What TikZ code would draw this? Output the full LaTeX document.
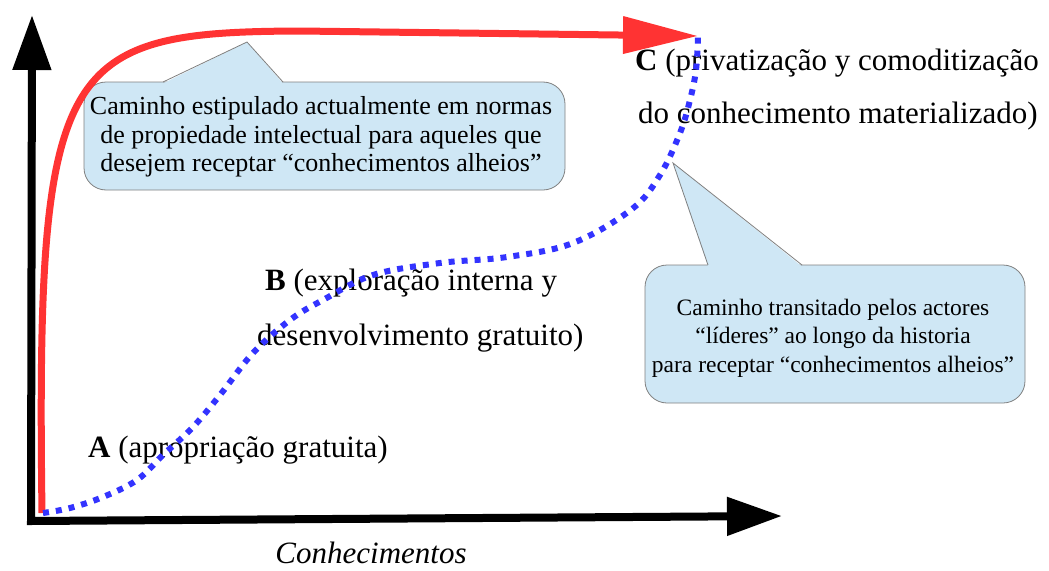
\documentclass[tikz,border=0pt]{standalone}
\usepackage{fontspec}
\setmainfont{Liberation Serif}
\usetikzlibrary{arrows.meta,positioning}
\definecolor{pathred}{HTML}{FF3333}
\definecolor{pathblue}{HTML}{3333FF}
\definecolor{notefill}{HTML}{CFE7F5}
\tikzset{>=stealth,
  axis/.style={line width=8pt, black},
  redpath/.style={line width=7pt, pathred, -{Triangle[length=75pt,width=36pt]}},
  bluepath/.style={line width=6pt, pathblue, dash pattern=on 6pt off 7pt},
  notebox/.style={fill=notefill, draw=gray, line width=0.8pt, rounded corners=22pt},
  notetext/.style={align=center, inner sep=0pt},
  phase/.style={anchor=base west, inner sep=0pt, font=\fontsize{31}{37}\selectfont}
}

\begin{document}
\begin{tikzpicture}[x=1pt,y=-1pt]

    \useasboundingbox (0,0) rectangle (1049,570);

    \coordinate (O) at (31,521);
    \coordinate (ytip) at (32,15);
    \coordinate (xtip) at (782,516);
    \coordinate (start) at (42,513);
    \coordinate (C) at (698,36);

    % notes
    \draw [notebox] (84,82) rectangle (565,190);
    \fill [notefill] (163,83.5) -- (247,42) -- (283,83.5) -- cycle;
    \draw [gray, line width=0.8pt] (163,82) -- (247,42) -- (283,82);
    \node [notetext, font=\fontsize{26}{28.5}\selectfont] (note1) at (321,137)
        {Caminho estipulado actualmente em normas\\
         de propiedade intelectual para aqueles que\\
         desejem receptar “conhecimentos alheios”};

    \draw [notebox] (645,265) rectangle (1025,403);
    \fill [notefill] (708,266.5) -- (673,163) -- (802,266.5) -- cycle;
    \draw [gray, line width=0.8pt] (708,265) -- (673,163) -- (802,265);
    \node [notetext, font=\fontsize{23.5}{28.5}\selectfont] (note2) at (833,338)
        {Caminho transitado pelos actores\\
         “líderes” ao longo da historia\\
         para receptar “conhecimentos alheios”};

    % phases
    \node [phase] (phaseA) at (88,457) {\textbf{A} (apropriação gratuita)};
    \node [phase] (phaseB1) at (265,290) {\textbf{B} (exploração interna y};
    \node [phase] (phaseB2) at (257,345) {desenvolvimento gratuito)};
    \node [phase] (phaseC1) at (635,70) {\textbf{C} (privatização y comoditização};
    \node [phase] (phaseC2) at (638,123) {do conhecimento materializado)};

    \node [anchor=base, inner sep=0pt, font=\fontsize{31}{37}\selectfont\itshape]
        (xlabel) at (371,563) {Conhecimentos};

    % paths
    \draw [redpath] (start) .. controls (36,60) and (60,32) .. (300,31) -- (C);
    \draw [bluepath] plot [smooth, tension=0.6] coordinates {(43,513) (70,508)
        (103,497) (137,480) (163,455) (193,427) (220,395) (253,353) (290,320)
        (323,300) (373,275) (440,263) (507,257) (573,243) (632,209) (660,175)
        (680,133) (690,100) (696,70) (698,37)};

    % axes
    \draw [axis, {Triangle[length=55pt,width=37pt]}-{Triangle[length=55pt,width=37pt]}]
        (ytip) -- (O) -- (xtip);

\end{tikzpicture}
\end{document}
